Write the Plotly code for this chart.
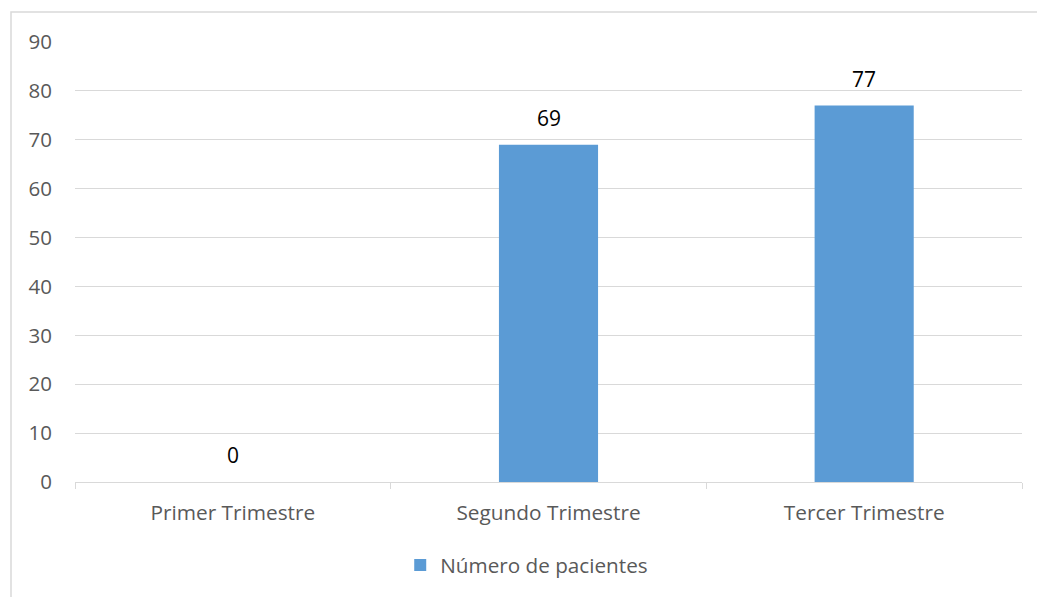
import plotly.graph_objects as go

categories = ["Primer Trimestre", "Segundo Trimestre", "Tercer Trimestre"]
values = [0, 69, 77]
series_name = "Número de pacientes"
y_ticks = [0, 10, 20, 30, 40, 50, 60, 70, 80, 90]

BAR = "#5b9bd5"
GRID = "#d9d9d9"
TXT = "#595959"
FONT = "Open Sans, Segoe UI, DejaVu Sans, sans-serif"

fig = go.Figure()
fig.add_trace(go.Bar(
    x=categories, y=values, name=series_name,
    marker=dict(color=BAR, line=dict(width=0)),
    width=0.314, showlegend=True,
))

for c, v in zip(categories, values):
    fig.add_annotation(x=c, y=v, text=str(v), showarrow=False,
                       yshift=27, font=dict(family=FONT, size=21, color="#000000"))

fig.update_layout(
    width=1037, height=597,
    margin=dict(l=75, r=15, t=42, b=115, autoexpand=False),
    paper_bgcolor="white", plot_bgcolor="white",
    font=dict(family=FONT, size=20, color=TXT),
    showlegend=True,
    legend=dict(orientation="h", x=0.477, xanchor="center",
                yref="container", y=1 - 545 / 597, yanchor="top",
                font=dict(family=FONT, size=20.7, color=TXT), itemwidth=30),
    bargap=0.686,
    xaxis=dict(
        showgrid=False, showline=True, linecolor=GRID, linewidth=1,
        ticks="outside", tickson="boundaries", ticklen=6, tickcolor=GRID,
        tickfont=dict(family=FONT, size=20.8, color=TXT),
        ticklabelstandoff=12, automargin=False,
    ),
    yaxis=dict(
        range=[0, 90], tickvals=y_ticks, showgrid=True, gridcolor=GRID, gridwidth=1,
        zeroline=False, showline=False, ticks="",
        tickfont=dict(family=FONT, size=20.5, color=TXT),
        ticklabelstandoff=22, automargin=False,
    ),
    shapes=[dict(type="rect", xref="paper", yref="paper",
                 x0=(11 - 75) / 947, x1=1.2, y0=-0.5, y1=1 + (42 - 12) / 440,
                 line=dict(color=GRID, width=1.5), layer="below")],
)

fig.write_html("out.html")
